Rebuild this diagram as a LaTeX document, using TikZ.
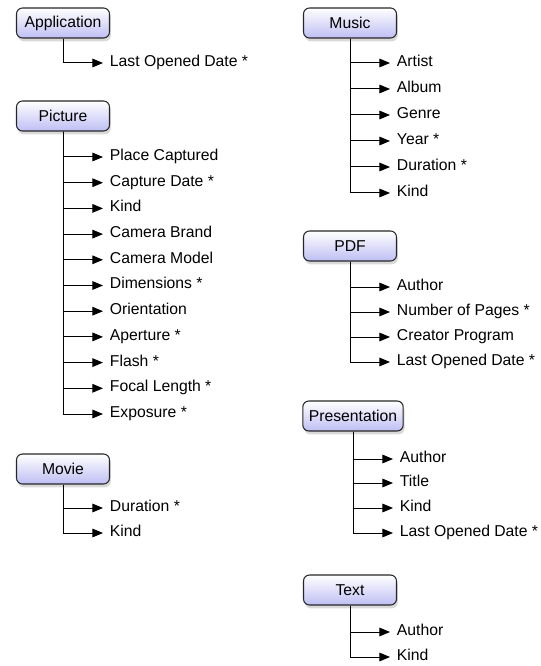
\documentclass[tikz,border=0pt]{standalone}
\usepackage{fontspec}
\setmainfont{Liberation Sans}
\usetikzlibrary{arrows.meta,shadows}

\begin{document}
\begin{tikzpicture}[x=0.75pt, y=-0.75pt, font=\fontsize{11.8}{14}\selectfont]
    \tikzstyle{node_kind} = [draw=black!85, line width=0.8pt, rounded corners=4.5pt, minimum width=69.75pt, minimum height=22.5pt, inner xsep=4.5pt, top color=white, bottom color={rgb,255:red,190;green,190;blue,244}, drop shadow={shadow xshift=1pt, shadow yshift=-2.5pt, opacity=0.3}]
    \tikzstyle{node_attr} = [draw=none, anchor=west, inner xsep=5pt, inner ysep=1pt, text height=0.72em, text depth=0.21em]
    \tikzstyle{arrow_branch} = [-{Triangle[length=8pt, width=6.5pt]}, black, line width=0.75pt]

    \useasboundingbox (0,0) rectangle (540,666);

    \node[node_kind] (nApp) at (63,23) {Application};
    \node[node_attr] (nApp1) at (103,63) {Last Opened Date *};

    \draw[arrow_branch] (nApp) |- (nApp1);

    % ---------------------------------------

    \node[node_kind] (nPic) at (63,116) {Picture};
    \node[node_attr] (nPic1) at (103,157) {Place Captured};
    \node[node_attr] (nPic2) at (103,182.7) {Capture Date *};
    \node[node_attr] (nPic3) at (103,208.4) {Kind};
    \node[node_attr] (nPic4) at (103,234.1) {Camera Brand};
    \node[node_attr] (nPic5) at (103,259.8) {Camera Model};
    \node[node_attr] (nPic6) at (103,285.5) {Dimensions *};
    \node[node_attr] (nPic7) at (103,311.2) {Orientation};
    \node[node_attr] (nPic8) at (103,336.9) {Aperture *};
    \node[node_attr] (nPic9) at (103,362.6) {Flash *};
    \node[node_attr] (nPic10) at (103,388.3) {Focal Length *};
    \node[node_attr] (nPic11) at (103,414) {Exposure *};

    \draw[arrow_branch] (nPic) |- (nPic1);
    \draw[arrow_branch] (nPic) |- (nPic2);
    \draw[arrow_branch] (nPic) |- (nPic3);
    \draw[arrow_branch] (nPic) |- (nPic4);
    \draw[arrow_branch] (nPic) |- (nPic5);
    \draw[arrow_branch] (nPic) |- (nPic6);
    \draw[arrow_branch] (nPic) |- (nPic7);
    \draw[arrow_branch] (nPic) |- (nPic8);
    \draw[arrow_branch] (nPic) |- (nPic9);
    \draw[arrow_branch] (nPic) |- (nPic10);
    \draw[arrow_branch] (nPic) |- (nPic11);

    % ---------------------------------------

    \node[node_kind] (nMov) at (63,469) {Movie};
    \node[node_attr] (nMov1) at (103,508) {Duration *};
    \node[node_attr] (nMov2) at (103,533) {Kind};

    \draw[arrow_branch] (nMov) |- (nMov1);
    \draw[arrow_branch] (nMov) |- (nMov2);

    % ---------------------------------------

    \node[node_kind] (nMus) at (350,23) {Music};
    \node[node_attr] (nMus1) at (390,63) {Artist};
    \node[node_attr] (nMus2) at (390,89) {Album};
    \node[node_attr] (nMus3) at (390,115) {Genre};
    \node[node_attr] (nMus4) at (390,141) {Year *};
    \node[node_attr] (nMus5) at (390,167) {Duration *};
    \node[node_attr] (nMus6) at (390,193) {Kind};

    \draw[arrow_branch] (nMus) |- (nMus1);
    \draw[arrow_branch] (nMus) |- (nMus2);
    \draw[arrow_branch] (nMus) |- (nMus3);
    \draw[arrow_branch] (nMus) |- (nMus4);
    \draw[arrow_branch] (nMus) |- (nMus5);
    \draw[arrow_branch] (nMus) |- (nMus6);

    % ---------------------------------------

    \node[node_kind] (nPdf) at (350,246) {PDF};
    \node[node_attr] (nPdf1) at (390,287) {Author};
    \node[node_attr] (nPdf2) at (390,312) {Number of Pages *};
    \node[node_attr] (nPdf3) at (390,337) {Creator Program};
    \node[node_attr] (nPdf4) at (390,362) {Last Opened Date *};

    \draw[arrow_branch] (nPdf) |- (nPdf1);
    \draw[arrow_branch] (nPdf) |- (nPdf2);
    \draw[arrow_branch] (nPdf) |- (nPdf3);
    \draw[arrow_branch] (nPdf) |- (nPdf4);

    % ---------------------------------------

    \node[node_kind] (nPre) at (353,416) {Presentation};
    \node[node_attr] (nPre1) at (393,459) {Author};
    \node[node_attr] (nPre2) at (393,483) {Title};
    \node[node_attr] (nPre3) at (393,508) {Kind};
    \node[node_attr] (nPre4) at (393,533) {Last Opened Date *};

    \draw[arrow_branch] (nPre) |- (nPre1);
    \draw[arrow_branch] (nPre) |- (nPre2);
    \draw[arrow_branch] (nPre) |- (nPre3);
    \draw[arrow_branch] (nPre) |- (nPre4);

    % ---------------------------------------

    \node[node_kind] (nTxt) at (350,590) {Text};
    \node[node_attr] (nTxt1) at (390,632) {Author};
    \node[node_attr] (nTxt2) at (390,657) {Kind};

    \draw[arrow_branch] (nTxt) |- (nTxt1);
    \draw[arrow_branch] (nTxt) |- (nTxt2);

\end{tikzpicture}
\end{document}
